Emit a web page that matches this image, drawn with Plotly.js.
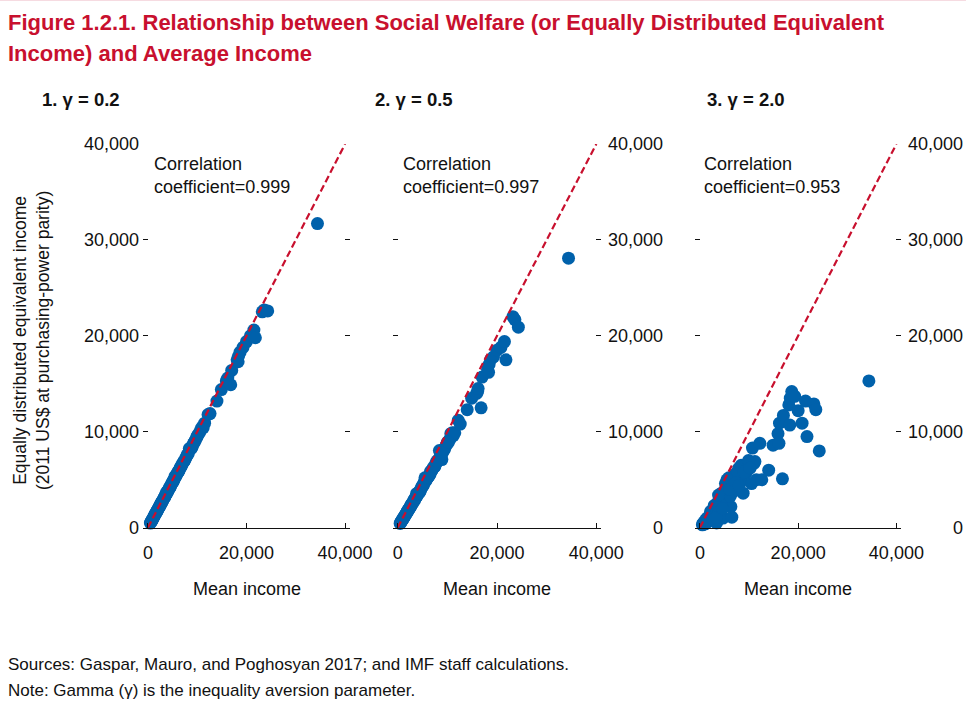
<!DOCTYPE html>
<html>
<head>
<meta charset="utf-8">
<script src="https://cdn.plot.ly/plotly-3.0.1.min.js"></script>
<style>html,body{margin:0;padding:0;background:#fff;}#chart{width:966px;height:702px;}</style>
</head>
<body>
<div id="chart"></div>
<script>
// Mean income (2011 US$ PPP), one entry per country
const meanIncome = [500,700,800,1000,1100,1300,1400,1600,1800,1900,2100,2300,2500,2600,2800,3000,3200,3400,3500,3700,3900,4100,4300,4500,4700,4900,5100,5300,5500,5700,6000,6300,6500,6600,6900,7200,7500,7900,8200,8400,8800,8900,9200,9600,10000,10500,10700,11000,11200,11500,12200,12600,14000,14900,15900,16100,16200,16800,17000,18100,18300,18400,18700,19300,20000,20800,21500,21800,23200,23600,24300,34400,
  600,900,1200,1500,1700,2000,2200,2400,2700,2900,3300,3600,4000,4400,4600,5000,5200,5600,5900,6200,6800,7700,8600,9400,9900,
  3800,6100,7300,8000,9000,10200];
// Equally distributed equivalent income, gamma = 0.2
const edeGamma02 = [480,660,760,950,1030,1220,1340,1500,1700,1780,2000,2160,2360,2450,2660,2820,3040,3180,3320,3500,3660,3900,4050,4220,4450,4660,4800,5050,5350,5400,5700,5950,6150,6300,6550,6850,7050,7500,7750,8250,8300,8350,8750,9100,9550,9950,10200,10500,10400,10900,11800,11900,13200,14400,15300,15400,15600,14900,16400,17500,17300,17900,18300,18800,19400,20000,20600,19800,22500,22700,22600,31700,
  570,850,1140,1420,1610,1890,2080,2270,2560,2750,3130,3420,3800,4180,4360,4750,4930,5300,5600,5870,6450,7300,8150,8900,9400,
  3700,5800,6900,7600,8500,9700];
// gamma = 0.5
const edeGamma05 = [450,600,700,860,920,1100,1220,1350,1560,1600,1840,1950,2150,2200,2450,2550,2800,2850,3050,3200,3300,3600,3650,3750,4050,4300,4350,4700,5200,4950,5200,5400,5550,5850,6000,6300,6400,6950,7100,8050,7600,7100,8000,8400,8900,9200,9800,9900,9600,9900,11200,10800,12300,13500,14000,14200,14500,12500,15700,16500,16200,17000,17500,17800,18500,18800,19400,17500,22000,21700,20900,28100,
  530,780,1050,1300,1460,1720,1880,2050,2350,2500,2870,3130,3480,3800,3950,4350,4480,4850,5150,5350,5900,6700,7450,8150,8700,
  3550,5300,6300,6900,7800,8900];
// gamma = 2.0
const edeGamma20 = [300,350,500,550,400,700,950,600,1100,750,1450,900,1600,1200,2000,1300,2400,500,1900,2700,1500,3200,2100,1200,1000,3600,2600,4100,5000,3000,4400,2200,1100,4900,3800,5600,4200,6200,5400,6500,3600,5000,6100,6600,6700,4600,8300,6700,6900,5000,8800,5000,6000,8600,9800,8800,10900,5100,11700,12800,10700,13500,14200,13700,12200,10900,13200,9500,12900,12300,8000,15300,
  420,620,820,1000,800,1250,1700,1000,1800,2300,1100,2300,2800,3600,2000,3300,4600,3800,5200,3300,5100,5800,6300,5700,7000,
  3400,4000,4700,4400,5800,6200];

const panelTitles = ['1. γ = 0.2', '2. γ = 0.5', '3. γ = 2.0'];
const correlations = ['0.999', '0.997', '0.953'];
const yTickVals = [0, 10000, 20000, 30000, 40000];
const yTickText = ['0', '10,000', '20,000', '30,000', '40,000'];
const xTickVals = [0, 20000, 40000];
const xTickText = ['0', '20,000', '40,000'];
const diagonal = [0, 40000];

const W = 966, H = 702;
const px = v => v / W;
const py = v => 1 - v / H;

const BLUE = '#0061ab';
const RED = '#c8102e';
const FONT = 'Liberation Sans, Arial, sans-serif';
const fs = 18;

const seriesY = [edeGamma02, edeGamma05, edeGamma20];
const xDomains = [[143, 350], [392.7, 601.3], [695, 901.3]];
const yDomain = [py(527.7), py(144)];

const traces = [];
seriesY.forEach((ys, i) => {
  const xa = i === 0 ? 'x' : 'x' + (i + 1);
  const ya = i === 0 ? 'y' : 'y' + (i + 1);
  traces.push({
    type: 'scatter', mode: 'markers', x: meanIncome, y: ys,
    xaxis: xa, yaxis: ya, cliponaxis: false, showlegend: false,
    marker: {size: 13, color: BLUE, line: {width: 0}}, hoverinfo: 'x+y'
  });
  traces.push({
    type: 'scatter', mode: 'lines', x: diagonal, y: diagonal,
    xaxis: xa, yaxis: ya, cliponaxis: false, showlegend: false,
    line: {color: RED, width: 2.2, dash: '7px,3.5px'}, hoverinfo: 'skip'
  });
});
// empty traces to attach the right-hand label axes
traces.push({type: 'scatter', mode: 'markers', x: [], y: [], xaxis: 'x2', yaxis: 'y4', showlegend: false, hoverinfo: 'skip'});
traces.push({type: 'scatter', mode: 'markers', x: [], y: [], xaxis: 'x3', yaxis: 'y5', showlegend: false, hoverinfo: 'skip'});

const layout = {
  width: W, height: H,
  margin: {l: 0, r: 0, t: 0, b: 0},
  paper_bgcolor: '#fff', plot_bgcolor: 'rgba(0,0,0,0)',
  font: {family: FONT, size: fs, color: '#111'},
  showlegend: false,
  annotations: [],
  shapes: [
    {type: 'line', xref: 'paper', yref: 'paper', x0: 0, x1: 1, y0: py(0.5), y1: py(0.5), line: {color: '#f6dbe1', width: 1}}
  ]
};

function xAxis(i) {
  return {
    domain: [px(xDomains[i][0]), px(xDomains[i][1])],
    range: [-1000, 41000], anchor: i === 0 ? 'y' : 'y' + (i + 1),
    tickmode: 'array', tickvals: xTickVals, ticktext: xTickText,
    ticks: 'inside', ticklen: 5, tickwidth: 1, tickcolor: '#111',
    showline: true, linecolor: '#111', linewidth: 1.3,
    showgrid: false, zeroline: false, fixedrange: true,
    tickfont: {size: fs, family: FONT, color: '#111'}, ticklabelstandoff: 8
  };
}
function yAxis(i) {
  return {
    domain: yDomain, range: [0, 40000], anchor: i === 0 ? 'x' : 'x' + (i + 1),
    tickmode: 'array', tickvals: yTickVals, ticktext: yTickText,
    ticks: 'inside', ticklen: 5, tickwidth: 1, tickcolor: '#111', mirror: 'ticks',
    showline: false, showgrid: false, zeroline: false, fixedrange: true,
    showticklabels: i === 0, ticklabelstandoff: 3,
    tickfont: {size: fs, family: FONT, color: '#111'}
  };
}
for (let i = 0; i < 3; i++) {
  layout[i === 0 ? 'xaxis' : 'xaxis' + (i + 1)] = xAxis(i);
  layout[i === 0 ? 'yaxis' : 'yaxis' + (i + 1)] = yAxis(i);
}
function labelAxis(over, posPx) {
  return {
    overlaying: over, anchor: 'free', position: px(posPx), side: 'left',
    range: [0, 40000], tickmode: 'array', tickvals: yTickVals, ticktext: yTickText,
    ticks: '', showline: false, showgrid: false, zeroline: false, fixedrange: true,
    tickfont: {size: fs, family: FONT, color: '#111'}
  };
}
layout.yaxis4 = labelAxis('y2', 663);
layout.yaxis5 = labelAxis('y3', 963);

const ann = layout.annotations;
function addText(text, x, y, opts) {
  ann.push(Object.assign({
    text: text, xref: 'paper', yref: 'paper', x: px(x), y: py(y),
    xanchor: 'left', yanchor: 'middle', showarrow: false, align: 'left',
    font: {family: FONT, size: fs, color: '#111'}
  }, opts || {}));
}
// Title (two lines)
addText('<b>Figure 1.2.1. Relationship between Social Welfare (or Equally Distributed Equivalent</b>', 6, 23, {font: {family: FONT, size: 22, color: RED}});
addText('<b>Income) and Average Income</b>', 6, 53, {font: {family: FONT, size: 22, color: RED}});
// Panel titles
const panelTitleX = [40, 373, 705];
panelTitles.forEach((t, i) => addText('<b>' + t + '</b>', panelTitleX[i], 100, {font: {family: FONT, size: 18.5, color: '#111'}}));
// Correlation notes
const corrX = [152, 401, 702];
correlations.forEach((c, i) => addText('Correlation<br>coefficient=' + c, corrX[i], 175));
// X axis titles
const xCenters = [247, 497, 798];
xCenters.forEach(c => addText('Mean income', c, 589, {xanchor: 'center'}));
// Y axis title
addText('Equally distributed equivalent income<br>(2011 US$ at purchasing-power parity)', 31, 341, {xanchor: 'center', align: 'center', textangle: -90, font: {family: FONT, size: 17.5, color: '#111'}});
// Footnotes
addText('Sources: Gaspar, Mauro, and Poghosyan 2017; and IMF staff calculations.', 6, 664, {font: {family: FONT, size: 17, color: '#111'}});
addText('Note: Gamma (γ) is the inequality aversion parameter.', 6, 690, {font: {family: FONT, size: 17, color: '#111'}});

Plotly.newPlot('chart', traces, layout, {displayModeBar: false, staticPlot: true});
</script>
</body>
</html>
